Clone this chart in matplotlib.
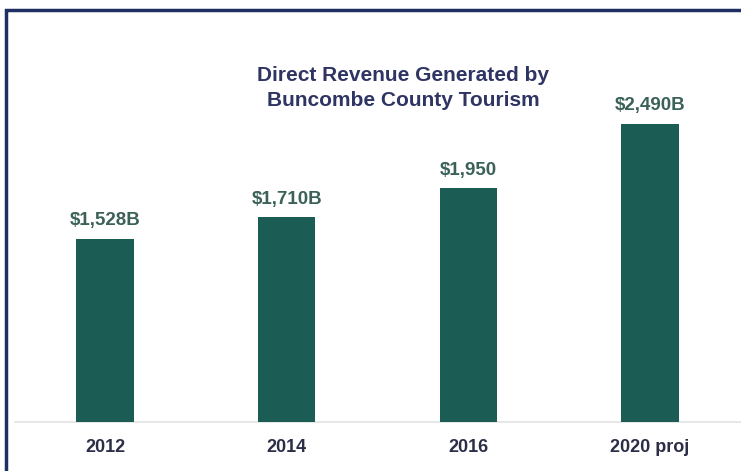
import matplotlib
matplotlib.use("Agg")
import matplotlib.pyplot as plt
from matplotlib.patches import Rectangle
from matplotlib import font_manager

categories = ["2012", "2014", "2016", "2020 proj"]
values = [1528, 1710, 1950, 2490]
value_labels = ["$1,528B", "$1,710B", "$1,950", "$2,490B"]
title = "Direct Revenue Generated by\nBuncombe County Tourism"

names = {f.name for f in font_manager.fontManager.ttflist}
fam = ["Liberation Sans Narrow", "Liberation Sans", "DejaVu Sans"] if "Liberation Sans Narrow" in names else ["Liberation Sans", "DejaVu Sans"]
plt.rcParams['font.family'] = fam

W, H = 741, 471
fig = plt.figure(figsize=(W / 100, H / 100), dpi=100)
fig.patch.set_facecolor("white")

# axes: x from pixel 15 to 741, y baseline at pixel 422, top at pixel 30
ax_left, ax_right = 15, 741
ax_top, ax_bottom = 30, 422
ax = fig.add_axes([ax_left / W, 1 - ax_bottom / H, (ax_right - ax_left) / W, (ax_bottom - ax_top) / H])
ax.set_facecolor("none")

x = list(range(len(categories)))
ax.bar(x, values, width=0.315, color="#1b5c55", zorder=3)
spacing = 181.7
x0 = (ax_left - 105) / spacing
x1 = x0 + (ax_right - ax_left) / spacing
ax.set_xlim(x0, x1)
ymax = (ax_bottom - ax_top) / 0.1198
ax.set_ylim(0, ymax)

for xi, v, lab in zip(x, values, value_labels):
    ax.annotate(lab, (xi, v), xytext=(0, 13), textcoords="offset points",
                ha="center", va="center", fontsize=13.5, fontweight="bold", color="#3b6158")

for s in ["top", "right", "left"]:
    ax.spines[s].set_visible(False)
ax.spines["bottom"].set_color("#e3e3e3")
ax.spines["bottom"].set_linewidth(1.2)
ax.set_yticks([])
ax.set_xticks(x)
ax.set_xticklabels(categories, fontsize=13, fontweight="bold", color="#2c2e47")
ax.tick_params(axis="x", length=0, pad=12)

fig.text(403 / W, 1 - 88 / H, title, ha="center", va="center", fontsize=15,
         fontweight="bold", color="#2f3563", linespacing=1.45)

# navy frame (left and top visible)
fig.patches.append(Rectangle((6 / W, -0.05), 1.2, 1 - 10 / H + 0.05, transform=fig.transFigure,
                             fill=False, edgecolor="#1f2f62", linewidth=2.5, zorder=10))

fig.savefig("out.png", dpi=100)
